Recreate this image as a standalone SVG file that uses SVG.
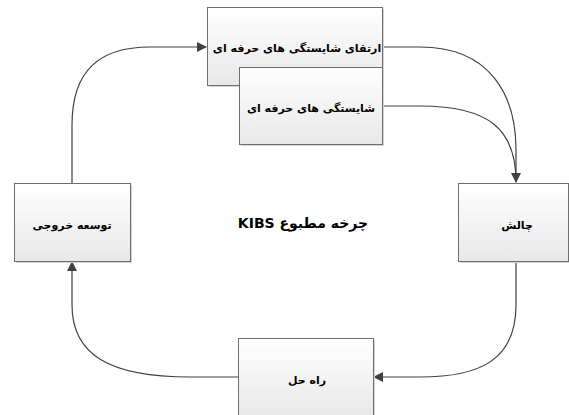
<svg xmlns="http://www.w3.org/2000/svg" width="569" height="415" viewBox="0 0 569 415">
<defs>
<linearGradient id="g" x1="0" y1="0" x2="0" y2="1">
<stop offset="0" stop-color="#ffffff"/>
<stop offset="1" stop-color="#e8e8e8"/>
</linearGradient>
<marker id="ah" viewBox="0 0 10 10" refX="9" refY="5" markerWidth="10" markerHeight="10" markerUnits="userSpaceOnUse" orient="auto">
<path d="M0,0 L10,5 L0,10 Z" fill="#404040"/>
</marker>
</defs>
<style>
.box{fill:url(#g);stroke:#6e6e6e;stroke-width:1}
.sh{fill:#d4d4d4}
.t{font-family:"DejaVu Sans",sans-serif;font-weight:bold;font-size:11px;fill:#000;text-anchor:middle;direction:rtl}
.c{fill:none;stroke:#404040;stroke-width:1.2}
</style>
<rect width="569" height="415" fill="#ffffff"/>
<g id="connectors">
<path class="c" d="M72,183 L72,125 C72,70 100,47 150,47 L206,47" marker-end="url(#ah)"/>
<path class="c" d="M382,47 L420,47 C490,47 516,95 516,150 L516,182" marker-end="url(#ah)"/>
<path class="c" d="M382,106 L420,106 C490,106 516,130 516,182"/>
<path class="c" d="M516,261 L516,305 C516,360 480,377 420,377 L374,377" marker-end="url(#ah)"/>
<path class="c" d="M238,377 L190,377 C110,377 72,355 72,305 L72,262" marker-end="url(#ah)"/>
</g>
<g id="n1">
<rect class="sh" x="209" y="9" width="175" height="78"/>
<rect class="box" x="207.5" y="7.5" width="175" height="78"/>
<text class="t" x="297" y="52">ارتقای شایستگی های حرفه ای</text>
</g>
<g id="n2">
<rect class="sh" x="241" y="69" width="143" height="77"/>
<rect class="box" x="239.5" y="67.5" width="143" height="77"/>
<text class="t" x="311" y="112">شایستگی های حرفه ای</text>
</g>
<g id="n3">
<rect class="sh" x="460" y="185" width="110" height="78"/>
<rect class="box" x="458.5" y="183.5" width="110" height="78"/>
<text class="t" x="517" y="229">چالش</text>
</g>
<g id="n4">
<rect class="sh" x="240" y="340" width="135" height="78"/>
<rect class="box" x="238.5" y="338.5" width="135" height="78"/>
<text class="t" x="307" y="384">راه حل</text>
</g>
<g id="n5">
<rect class="sh" x="16" y="185" width="116" height="78"/>
<rect class="box" x="14.5" y="183.5" width="116" height="78"/>
<text class="t" x="72" y="229">توسعه خروجی</text>
</g>
<g id="title">
<text class="t" x="303" y="228" style="font-size:14px">چرخه مطبوع KIBS</text>
</g>
</svg>
